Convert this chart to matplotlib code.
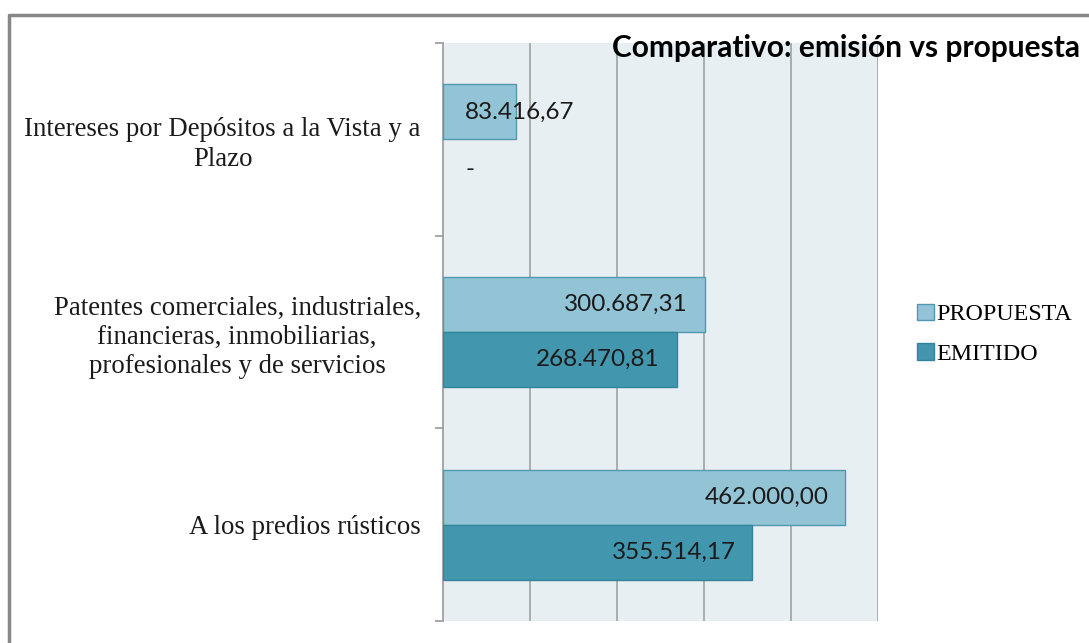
import numpy as np
import matplotlib.pyplot as plt
from matplotlib.lines import Line2D
from matplotlib.patches import Patch

# datos (de abajo hacia arriba)
categorias = [
    "A los predios rústicos",
    "Patentes comerciales, industriales,\nfinancieras, inmobiliarias,\nprofesionales y de servicios",
    "Intereses por Depósitos a la Vista y a\nPlazo",
]
propuesta = [462000.00, 300687.31, 83416.67]
emitido = [355514.17, 268470.81, 0.0]
series = ["PROPUESTA", "EMITIDO"]
titulo = "Comparativo: emisión vs propuesta"

c_prop = "#93C4D6"
c_prop_edge = "#4F98AE"
c_emit = "#4297AF"
c_emit_edge = "#31849B"


def fmt(v):
    if v == 0:
        return "-"
    s = f"{v:,.2f}"
    return s.replace(",", "X").replace(".", ",").replace("X", ".")


fig = plt.figure(figsize=(10.89, 6.43), dpi=100)
ax = fig.add_axes([0.4068, 0.0342, 0.3994, 0.8989])
ax.set_facecolor("#E8EFF3")

y = np.arange(len(categorias))
h = 0.285
lw_p = [1 if v > 0 else 0 for v in propuesta]
lw_e = [1 if v > 0 else 0 for v in emitido]
ax.barh(y + h / 2, propuesta, height=h, color=c_prop, edgecolor=c_prop_edge, linewidth=lw_p, zorder=3)
ax.barh(y - h / 2, emitido, height=h, color=c_emit, edgecolor=c_emit_edge, linewidth=lw_e, zorder=3)

ax.set_xlim(0, 500000)
ax.set_ylim(-0.5, 2.5)
ax.set_xticks([100000, 200000, 300000, 400000, 500000])
ax.grid(axis="x", color="#A6A6A6", linewidth=1.3, zorder=1)
ax.tick_params(axis="x", length=0, labelbottom=False)

ax.set_yticks(y)
ax.set_yticklabels(categorias, fontsize=19.3, family="Liberation Serif",
                   multialignment="center", linespacing=1.22, color="#1a1a1a")
ax.tick_params(axis="y", which="major", length=0, pad=16)
ax.set_yticks([-0.5, 0.5, 1.5, 2.5], minor=True)
ax.tick_params(axis="y", which="minor", length=6, width=1.3, color="#A0A0A0")

for s in ["top", "right", "bottom"]:
    ax.spines[s].set_visible(False)
ax.spines["left"].set_color("#A0A0A0")
ax.spines["left"].set_linewidth(1.3)

# etiquetas de valores
for vals, off in [(propuesta, h / 2), (emitido, -h / 2)]:
    for yi, v in zip(y, vals):
        if v > 150000:
            ax.annotate(fmt(v), (v, yi + off), xytext=(-12, 0), textcoords="offset points",
                        ha="right", va="center", fontsize=17.5, family="Lato", color="#1a1a1a", zorder=4)
        else:
            ax.annotate(fmt(v), (0, yi + off), xytext=(16, -2 if v == 0 else 0), textcoords="offset points",
                        ha="left", va="center", fontsize=17.5, family="Lato", color="#1a1a1a", zorder=4)

fig.text(0.992, 1 - 57 / 643, titulo, ha="right", va="baseline", fontsize=21.5,
         fontweight="bold", family="Lato", color="#000000")

handles = [Patch(facecolor=c_prop, edgecolor=c_prop_edge), Patch(facecolor=c_emit, edgecolor=c_emit_edge)]
fig.legend(handles, series, loc="center left", bbox_to_anchor=(0.822, 0.48), frameon=False,
           prop={"family": "Liberation Serif", "size": 17.3}, handlelength=0.7, handleheight=0.7,
           handletextpad=0.1, labelspacing=0.75)

# borde gris
fig.add_artist(Line2D([8.5 / 1089, 8.5 / 1089, 1], [0, 1 - 15 / 643, 1 - 15 / 643],
                      transform=fig.transFigure, color="#878787", linewidth=2.5))

fig.savefig("out.png", dpi=100)
